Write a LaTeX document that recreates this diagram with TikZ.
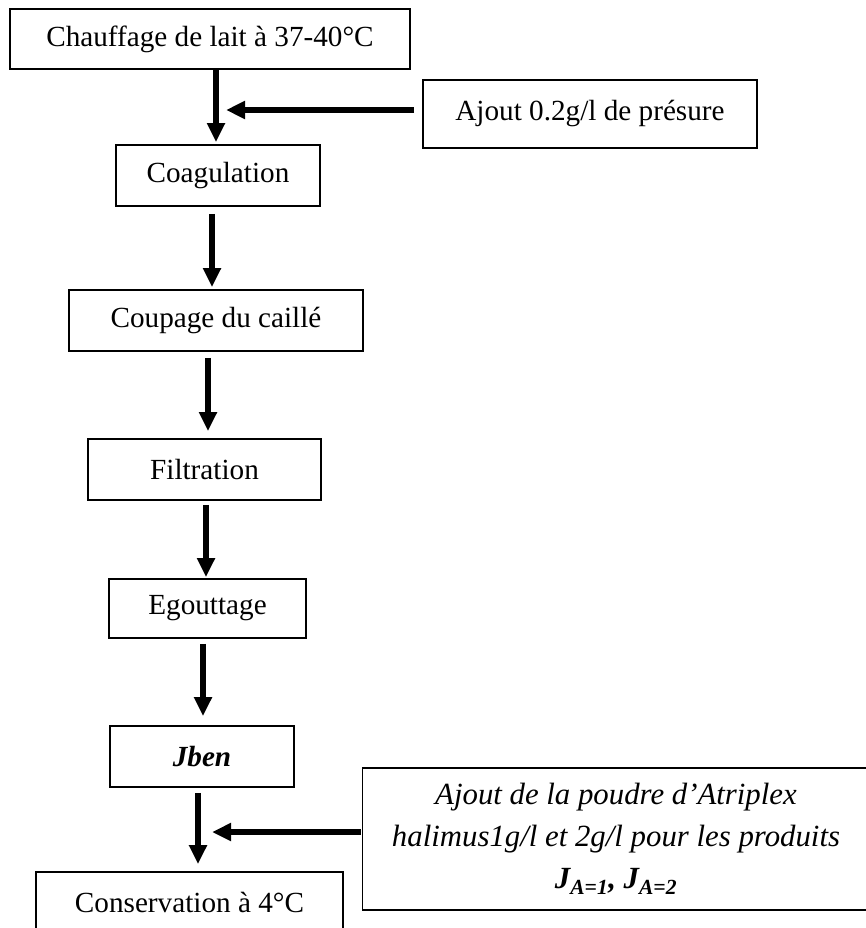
\documentclass[tikz,border=0pt]{standalone}
\usepackage{fontspec}
\setmainfont{Liberation Serif}
\usetikzlibrary{arrows.meta}

\tikzset{
  etape/.style={draw, line width=1.6pt, inner sep=0pt, align=center,
    font=\fontsize{29.2}{42}\selectfont},
  fleche/.style={line width=6pt, -{Triangle[width=17pt,length=19pt]}}
}

\begin{document}
\begin{tikzpicture}[x=1pt,y=-1pt]
    \useasboundingbox (0,0) rectangle (866,928);
    \node[etape, minimum width=400pt, minimum height=60pt] (chauf) at (210,39) {Chauffage de lait à 37-40°C};
    \node[etape, minimum width=334pt, minimum height=68pt] (ajout) at (590,114) {Ajout 0.2g/l de présure};
    \node[etape, minimum width=204pt, minimum height=61pt] (coag) at (218,175.5) {Coagulation};
    \node[etape, minimum width=294pt, minimum height=61pt] (coup) at (216,320.5) {Coupage du caillé};
    \node[etape, minimum width=233pt, minimum height=61pt] (filt) at (204.5,469.5) {Filtration};
    \node[etape, minimum width=197pt, minimum height=59pt] (egou) at (207.5,608.5) {Egouttage};
    \node[etape, minimum width=184pt, minimum height=61pt] (jben) at (202,756.5) {\bfseries\itshape Jben};
    \node[etape, minimum width=307pt, minimum height=60pt] (cons) at (189.5,902) {Conservation à 4°C};
    \node[etape, minimum width=507pt, minimum height=142pt, font=\fontsize{30.8}{42}\selectfont\itshape] (poudre) at (616,839)
      {Ajout de la poudre d’Atriplex\\halimus1g/l et 2g/l pour les produits\\{\bfseries J\textsubscript{A=1}, J\textsubscript{A=2}}};
    \coordinate (j1) at (226,110);
    \coordinate (j2) at (212,832);
    \draw[fleche, shorten >=2pt] ([xshift=6pt]chauf.south) -- ([xshift=-2pt]coag.north);
    \draw[fleche, shorten <=7pt, shorten >=2pt] ([xshift=-6pt]coag.south) -- ([xshift=-4pt]coup.north);
    \draw[fleche, shorten <=6pt, shorten >=7pt] ([xshift=-8pt]coup.south) -- ([xshift=3.5pt]filt.north);
    \draw[fleche, shorten <=4pt, shorten >=1pt] ([xshift=1.5pt]filt.south) -- ([xshift=-1.5pt]egou.north);
    \draw[fleche, shorten <=5pt, shorten >=9pt] ([xshift=-4.5pt]egou.south) -- ([xshift=1pt]jben.north);
    \draw[fleche, shorten <=5pt, shorten >=7pt] ([xshift=-4pt]jben.south) -- ([xshift=8.5pt]cons.north);
    \draw[fleche, shorten <=8pt] ([yshift=4pt]ajout.west) -- (j1);
    \draw[fleche, shorten <=1pt] ([yshift=7pt]poudre.west) -- (j2);
\end{tikzpicture}
\end{document}
